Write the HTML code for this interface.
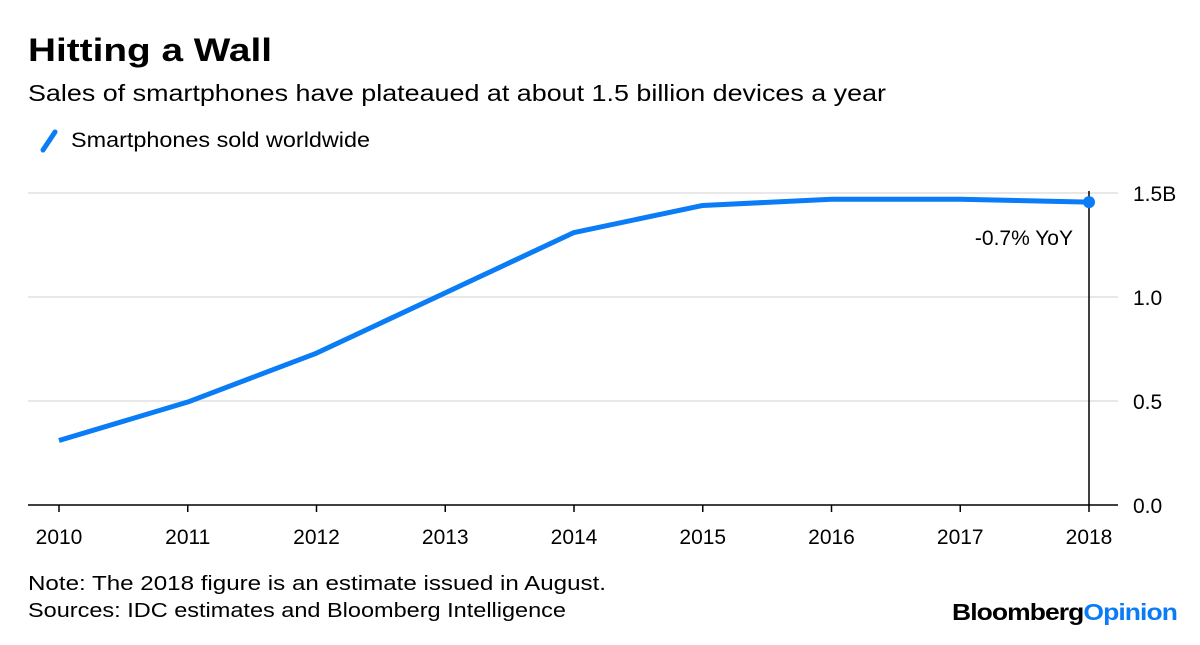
<!DOCTYPE html>
<html><head><meta charset="utf-8"><style>
body{margin:0;background:#fff;font-family:"Liberation Sans",sans-serif;}
svg text{font-family:"Liberation Sans",sans-serif;}
</style></head><body>
<svg width="1200" height="640" viewBox="0 0 1200 640">
<text x="28" y="61" font-size="32" font-weight="bold" fill="#000" textLength="244" lengthAdjust="spacingAndGlyphs">Hitting a Wall</text>
<text x="28" y="101" font-size="23" fill="#000" textLength="858" lengthAdjust="spacingAndGlyphs">Sales of smartphones have plateaued at about 1.5 billion devices a year</text>
<g>
<line x1="43" y1="150" x2="55" y2="132" stroke="#0a7cf5" stroke-width="5" stroke-linecap="round"/>
<text x="71" y="147" font-size="21" fill="#000" textLength="299" lengthAdjust="spacingAndGlyphs">Smartphones sold worldwide</text>
</g>
<g id="grid"></g>
<g id="xaxis"></g>
<g id="marks"></g>
<text x="28" y="590" font-size="20" fill="#000" textLength="578" lengthAdjust="spacingAndGlyphs">Note: The 2018 figure is an estimate issued in August.</text>
<text x="28" y="617" font-size="20" fill="#000" textLength="538" lengthAdjust="spacingAndGlyphs">Sources: IDC estimates and Bloomberg Intelligence</text>
<text x="1177" y="620" font-size="23" font-weight="bold" text-anchor="end" letter-spacing="-0.8" textLength="225" lengthAdjust="spacingAndGlyphs"><tspan fill="#000">Bloomberg</tspan><tspan fill="#0a7cf5">Opinion</tspan></text>
</svg>
<script>
const years=["2010","2011","2012","2013","2014","2015","2016","2017","2018"];
const sales=[0.31,0.495,0.73,1.02,1.31,1.44,1.47,1.47,1.456];
const yTicks=[0,0.5,1.0,1.5];
const yTickLabels=["0.0","0.5","1.0","1.5B"];
const annotation="-0.7% YoY";
const NS="http://www.w3.org/2000/svg";
const x=i=>59+i*(1089-59)/(years.length-1);
const y=v=>505-v*208;
function mk(tag,attrs,parent,text){const e=document.createElementNS(NS,tag);for(const k in attrs)e.setAttribute(k,attrs[k]);if(text!=null)e.textContent=text;document.getElementById(parent).appendChild(e);return e;}
yTicks.forEach((t,i)=>{
  if(t>0){const g=mk('line',{x1:28,x2:1118,y1:y(t),y2:y(t),stroke:'#e8e8e8','stroke-width':2},'grid');
  
  }
  const l=mk('text',{x:1133,y:y(t)+8,'font-size':21,fill:'#000'},'grid',yTickLabels[i]);
  
  
});
const base=mk('line',{x1:28,x2:1118,y1:505,y2:505,stroke:'#000','stroke-width':1.5},'xaxis');


years.forEach((yr,i)=>{
  const t=mk('line',{x1:x(i),x2:x(i),y1:505,y2:512,stroke:'#000','stroke-width':1.5},'xaxis');
  
  
  const l=mk('text',{x:x(i),y:544,'font-size':21,'text-anchor':'middle',fill:'#000'},'xaxis',yr);
  
  
});
const n=years.length-1;
const vl=mk('line',{x1:x(n),x2:x(n),y1:y(1.5)-2,y2:505,stroke:'#000','stroke-width':1.5},'marks');


const pts=sales.map((v,i)=>x(i)+','+y(v)).join(' ');
const line=mk('polyline',{points:pts,fill:'none',stroke:'#0a7cf5','stroke-width':5,'stroke-linejoin':'round'},'marks');


const dot=mk('circle',{cx:x(n),cy:y(sales[n]),r:6,fill:'#0a7cf5'},'marks');


const at=mk('text',{x:x(n)-16,y:y(sales[n])+43,'font-size':21,'text-anchor':'end',fill:'#000'},'marks',annotation);


</script>
</body></html>
